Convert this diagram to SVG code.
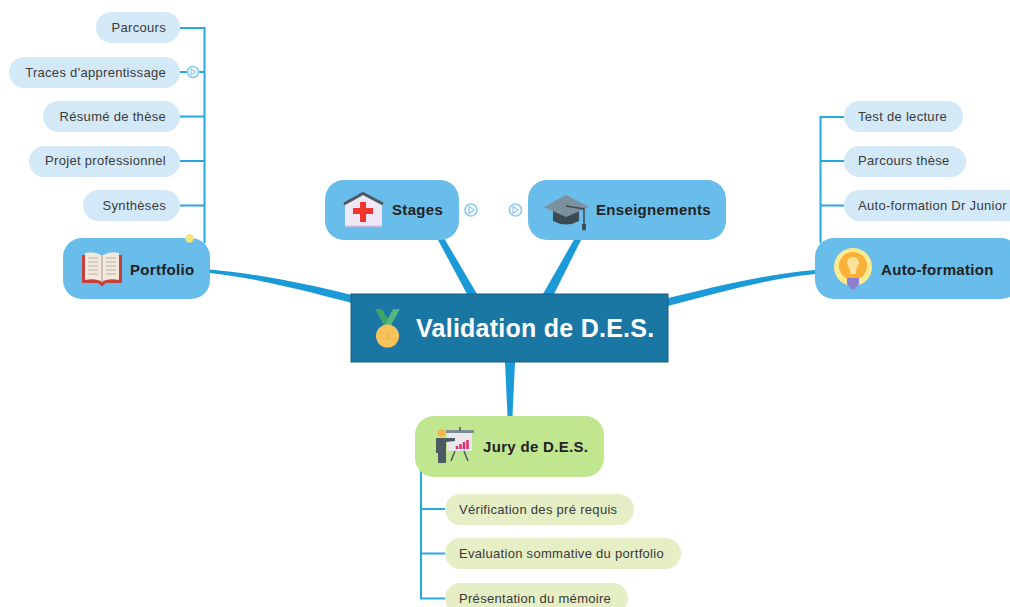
<svg xmlns="http://www.w3.org/2000/svg" width="1010" height="607" viewBox="0 0 1010 607">
<style>
text{font-family:"Liberation Sans",Arial,sans-serif}
.sub{fill:#d3e9f8}
.gsub{fill:#e5eec4}
.main{fill:#69bdea}
.st{font-size:13px;letter-spacing:.3px;fill:#3a3a3a}
.mt{font-size:15px;letter-spacing:.32px;font-weight:bold;fill:#222}
.thin{fill:none;stroke:#29a8df;stroke-width:2}
.thick{fill:#1a9ad6;stroke:none}
.ring{fill:#fff;stroke:#8ccaee;stroke-width:1.700}
.tri{fill:none;stroke:#8ccaee;stroke-width:1.200}
</style>
<g id="connectors">
<path class="thin" d="M180 28H204.500V243M180 72H204.500M180 116.500H204.500M180 161H204.500M180 205.500H204.500"/>
<path class="thin" d="M844 117H820.500V243M844 161H820.500M844 205.500H820.500"/>
<path class="thin" d="M421 468V598.500H445M421 509H445M421 553.500H445"/>
<path class="thick" d="M210 269.500C262 274 310 285 352 295V303C305 291 262 279 210 273Z"/>
<path class="thick" d="M815 270C765 274 715 287 668 298V306C715 294 765 279 815 274Z"/>
<path class="thick" d="M438 240L444 238L477 294H467Z"/>
<path class="thick" d="M575 238L581 240L554 294H543Z"/>
<path class="thick" d="M505 362H515L512.500 416H507.500Z"/>
</g>
<g id="portfolio-children">
<g id="parcours"><rect class="sub" x="96" y="12" width="84" height="31" rx="15.500"/><text class="st" x="166" y="32" text-anchor="end">Parcours</text></g>
<g id="traces"><rect class="sub" x="9" y="57" width="171" height="31" rx="15.500"/><text class="st" x="166" y="77" text-anchor="end">Traces d'apprentissage</text>
<circle class="ring" cx="193" cy="72" r="5.500"/><path class="tri" d="M191 69L195.500 72L191 75Z"/></g>
<g id="resume"><rect class="sub" x="43" y="101" width="137" height="31" rx="15.500"/><text class="st" x="166" y="121" text-anchor="end">Résumé de thèse</text></g>
<g id="projet"><rect class="sub" x="29" y="146" width="151" height="31" rx="15.500"/><text class="st" x="166" y="165" text-anchor="end">Projet professionnel</text></g>
<g id="syntheses"><rect class="sub" x="83" y="190" width="97" height="31" rx="15.500"/><text class="st" x="166" y="210" text-anchor="end">Synthèses</text></g>
</g>
<g id="portfolio">
<rect class="main" x="63" y="238" width="147" height="61" rx="19"/>
<circle cx="189.500" cy="238.500" r="4.300" fill="#f7e27c"/>
<path d="M82 255H122V283H106L102 286.500L98 283H82Z" fill="#c8403c"/>
<path d="M85 253Q94 251 101 255V281Q94 278 85 280Z M119 253Q110 251 103 255V281Q110 278 119 280Z" fill="#f3e8dc"/>
<path d="M101 255H103V282H101Z" fill="#cdbfb4"/>
<path d="M88 258h10M88 262h10M88 266h10M88 270h10M88 274h10M106 258h10M106 262h10M106 266h10M106 270h10M106 274h10" stroke="#bdb1a8" stroke-width="1"/>
<text class="mt" x="130" y="275">Portfolio</text>
</g>
<g id="autoformation-children">
<g id="test"><rect class="sub" x="844" y="101" width="119" height="31" rx="15.500"/><text class="st" x="858" y="121">Test de lecture</text></g>
<g id="parcours-these"><rect class="sub" x="844" y="146" width="122" height="31" rx="15.500"/><text class="st" x="858" y="165">Parcours thèse</text></g>
<g id="dr-junior"><rect class="sub" x="844" y="190" width="182" height="31" rx="15.500"/><text class="st" x="858" y="210">Auto-formation Dr Junior</text></g>
</g>
<g id="autoformation">
<rect class="main" x="815" y="238" width="205" height="61" rx="19"/>
<circle cx="853" cy="267" r="19" fill="#fdeb8f"/>
<circle cx="853" cy="266" r="14" fill="#fbb03a"/>
<path d="M853 257C847 257 846 263 848 266C850 269 850 271 850 274H856C856 271 856 269 858 266C860 263 859 257 853 257Z" fill="#fde29a"/>
<path d="M847 278H859V284L855 289H851L847 284Z" fill="#8d7fd0"/>
<text class="mt" x="881" y="275">Auto-formation</text>
</g>
<g id="stages">
<rect class="main" x="325" y="180" width="134" height="60" rx="19"/>
<path d="M345 204L363 194L382 204V227H345Z" fill="#efe7f5"/>
<path d="M345 226.500H382" stroke="#c5b3e0" stroke-width="1.500"/>
<path d="M344 204L363 193.500L383 204" fill="none" stroke="#4b5a63" stroke-width="3"/>
<path d="M360 202H366V208H373V214H366V222H360V214H353V208H360Z" fill="#f0352d"/>
<text class="mt" x="392" y="215">Stages</text>
</g>
<g id="stages-icon"><circle class="ring" cx="471" cy="210" r="6"/><path class="tri" d="M469 206.500L474 210L469 213.500Z"/></g>
<g id="enseignements-icon"><circle class="ring" cx="515.500" cy="210" r="6"/><path class="tri" d="M513 206.500L518 210L513 213.500Z"/></g>
<g id="enseignements">
<rect class="main" x="528" y="180" width="198" height="60" rx="19"/>
<path d="M553 209H579V221Q566 228 553 221Z" fill="#3c4a53"/>
<path d="M544 207L566 195L589 207L566 217Z" fill="#7b919f"/>
<path d="M566 206L584 209V225" fill="none" stroke="#3c4a53" stroke-width="1.500"/>
<path d="M582 224H586L586 229L584 231L582 229Z" fill="#3c4a53"/>
<text class="mt" x="596" y="215">Enseignements</text>
</g>
<g id="central">
<rect x="351" y="294" width="317" height="68" fill="#1a77a4" stroke="#175f82" stroke-width="1"/>
<path d="M375 309H382L391 324L386 329Z" fill="#3da56a"/>
<path d="M400 309H393L385 324L389 329Z" fill="#55b77e"/>
<circle cx="387.500" cy="336" r="11.500" fill="#f7c35a"/>
<text x="388" y="339" font-size="7" fill="#e0a232" text-anchor="middle">1</text>
<text x="416" y="337" font-size="25" letter-spacing=".25" font-weight="bold" fill="#fff">Validation de D.E.S.</text>
</g>
<g id="jury">
<rect x="415" y="416" width="189" height="61" rx="19" fill="#c0e690"/>
<rect x="446" y="430" width="28" height="3" fill="#7e8c95"/>
<rect x="447" y="433" width="25" height="18" fill="#e9e9ec"/>
<path d="M455 451L451 461M464 451L468 461M460 427V431" stroke="#4b5a63" stroke-width="1.500"/>
<path d="M457 449v-3M460.500 449v-5M464 449v-7M467.500 449v-9" stroke="#e02b71" stroke-width="2.500"/>
<circle cx="441.500" cy="433" r="3.800" fill="#f6b24a"/>
<path d="M436 438H455V441L446 442V463H438V453H436Z" fill="#4b5a63"/>
<text class="mt" x="483" y="452">Jury de D.E.S.</text>
</g>
<g id="jury-children">
<g id="verification"><rect class="gsub" x="445" y="494" width="189" height="31" rx="15.500"/><text class="st" x="459" y="514">Vérification des pré requis</text></g>
<g id="evaluation"><rect class="gsub" x="445" y="538" width="236" height="31" rx="15.500"/><text class="st" x="459" y="558">Evaluation sommative du portfolio</text></g>
<g id="presentation"><rect class="gsub" x="445" y="583" width="183" height="31" rx="15.500"/><text class="st" x="459" y="603">Présentation du mémoire</text></g>
</g>
</svg>
